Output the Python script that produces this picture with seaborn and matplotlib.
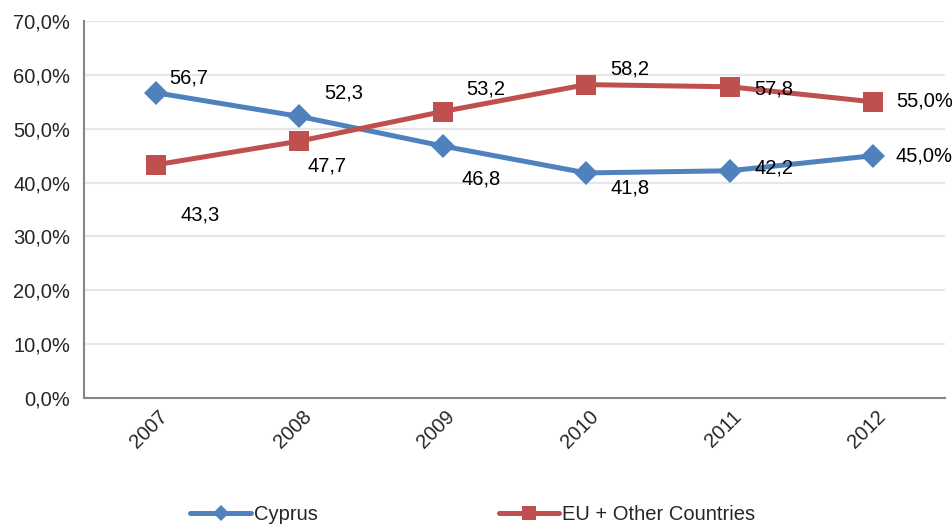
import matplotlib
matplotlib.use("Agg")
import matplotlib.pyplot as plt
import matplotlib.transforms as mtransforms
from matplotlib.ticker import FixedLocator, FuncFormatter
import seaborn as sns
import pandas as pd

years = ["2007", "2008", "2009", "2010", "2011", "2012"]
cyprus = [56.7, 52.3, 46.8, 41.8, 42.2, 45.0]
eu_other = [43.3, 47.7, 53.2, 58.2, 57.8, 55.0]
series_names = ["Cyprus", "EU + Other Countries"]

BLUE = "#4F81BD"
RED = "#C0504D"
AXIS_GREY = "#868686"
GRID_GREY = "#E6E6E6"
FS = 14.5

# label offsets in pixels (dx, dy) relative to each point
cyprus_offsets = [(33, 15), (45, 23), (38, -33), (44, -15), (44, 3), (51, 0)]
eu_offsets = [(44, -50), (28, -25), (43, 23), (44, 16), (44, -2), (51, 1)]

df = pd.DataFrame({
    "year": years * 2,
    "value": cyprus + eu_other,
    "series": [series_names[0]] * len(years) + [series_names[1]] * len(years),
})

sns.set_style("white")
plt.rcParams["font.family"] = ["Liberation Sans", "DejaVu Sans"]

fig = plt.figure(figsize=(9.52, 5.27), dpi=100)
ax = fig.add_axes([0.0882, 0.2448, 0.9044, 0.7152])

sns.lineplot(data=df, x="year", y="value", hue="series", style="series",
             palette={series_names[0]: BLUE, series_names[1]: RED},
             markers={series_names[0]: "D", series_names[1]: "s"},
             dashes=False, linewidth=3.6, markersize=12,
             markeredgewidth=0, ax=ax, legend=True, zorder=3)
# squares a little bigger than the diamonds
for ln in ax.lines:
    if ln.get_marker() == "s":
        ln.set_markersize(14)

# data labels
px = 0.72
for vals, offs in [(cyprus, cyprus_offsets), (eu_other, eu_offsets)]:
    for i, (v, (dx, dy)) in enumerate(zip(vals, offs)):
        txt = f"{v:.1f}".replace(".", ",")
        if i == len(vals) - 1:
            txt += "%"
        ax.annotate(txt, (i, v), xytext=(dx * px, dy * px), textcoords="offset points",
                    ha="center", va="center", fontsize=FS, color="#000000", zorder=5)

ax.set_ylim(0, 70)
ax.set_xlim(-0.5, 5.5)
ax.set_yticks(range(0, 71, 10))
ax.yaxis.set_major_formatter(FuncFormatter(lambda v, p: f"{v:.1f}%".replace(".", ",")))
ax.grid(axis="y", color=GRID_GREY, linewidth=1.5, zorder=0)
ax.grid(axis="x", visible=False)
ax.set_axisbelow(True)

for s in ["top", "right"]:
    ax.spines[s].set_visible(False)
for s in ["left", "bottom"]:
    ax.spines[s].set_color(AXIS_GREY)
    ax.spines[s].set_linewidth(1.5)

ax.set_xlabel("")
ax.set_ylabel("")

ax.xaxis.set_minor_locator(FixedLocator([i - 0.5 for i in range(len(years) + 1)]))
ax.tick_params(axis="x", which="major", length=0, pad=11, labelsize=FS)
ax.tick_params(axis="x", which="minor", length=6, width=1.5, color=AXIS_GREY, direction="out")
ax.tick_params(axis="y", which="major", length=6, width=1.5, color=AXIS_GREY,
               direction="out", labelsize=FS, pad=4)

shift = mtransforms.ScaledTranslation(9 / 100, 0, fig.dpi_scale_trans)
for lab in ax.get_xticklabels():
    lab.set_rotation(45)
    lab.set_ha("right")
    lab.set_va("center")
    lab.set_rotation_mode("anchor")
    lab.set_transform(lab.get_transform() + shift)

handles, labels = ax.get_legend_handles_labels()
ax.legend(handles, labels, loc="center", bbox_to_anchor=(473 / 952, 1 - 515 / 527),
          bbox_transform=fig.transFigure, ncol=2, frameon=False, fontsize=FS,
          handlelength=3.0, handletextpad=0.15, columnspacing=9, markerscale=0.7)

fig.savefig("out.png", dpi=100)
